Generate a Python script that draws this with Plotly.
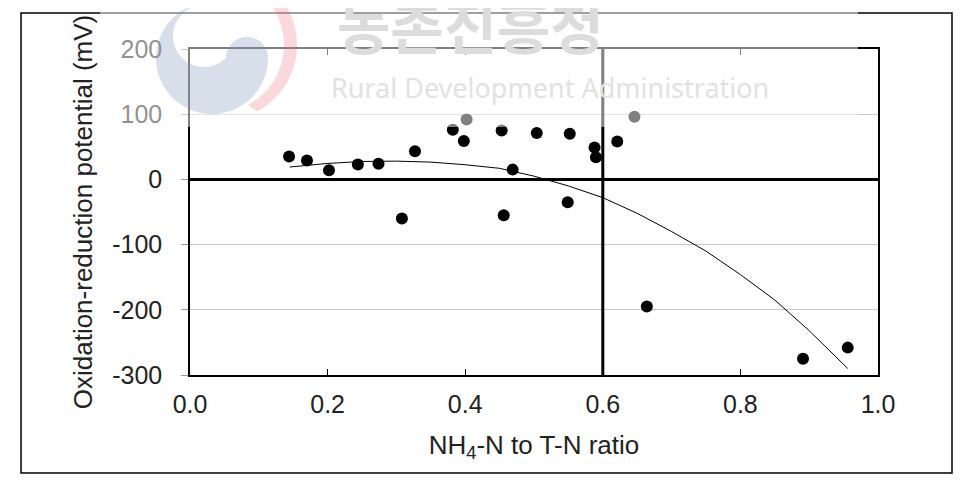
import numpy as np
import plotly.graph_objects as go

# ---- data ----
ratio = [0.144, 0.170, 0.202, 0.244, 0.274, 0.308, 0.327, 0.382, 0.398, 0.402,
         0.453, 0.456, 0.469, 0.504, 0.552, 0.549, 0.588, 0.590, 0.621, 0.646,
         0.664, 0.891, 0.956]
orp = [35, 29, 14, 23, 24, -60, 43, 76, 59, 92,
       75, -55, 15, 71, 70, -35, 49, 34, 58, 96,
       -195, -275, -258]

trend_x = [0.145, 0.20, 0.25, 0.30, 0.35, 0.40, 0.45, 0.50, 0.55, 0.60,
           0.65, 0.70, 0.75, 0.80, 0.85, 0.90, 0.956]
trend_y = [19, 24.5, 27.5, 28, 26.5, 22.5, 17, 5, -10, -28,
           -52, -80, -110, -146, -185, -232, -290]

x_ticks = [0.0, 0.2, 0.4, 0.6, 0.8, 1.0]
x_tick_text = ["0.0", "0.2", "0.4", "0.6", "0.8", "1.0"]
y_ticks = [-300, -200, -100, 0, 100, 200]
y_tick_text = ["-300", "-200", "-100", "0", "100", "200"]

OFF = 8  # page body margin
W, H = 965 - OFF, 480 - OFF
L, R, T, B = 190, 878, 49, 375  # plot area in screenshot pixels


def px(x):
    return (x - L) / (R - L)


def py(y):
    return (B - y) / (B - T)


fig = go.Figure()
fig.add_trace(go.Scatter(x=trend_x, y=trend_y, mode="lines",
                         line=dict(color="black", width=1), hoverinfo="skip",
                         showlegend=False))
fig.add_trace(go.Scatter(x=ratio, y=orp, mode="markers",
                         marker=dict(color="black", size=12), showlegend=False))

shapes = []
shapes.append(dict(type="line", xref="x", yref="y", x0=0.6, x1=0.6, y0=-300, y1=200,
                   line=dict(color="black", width=3)))
shapes.append(dict(type="rect", xref="paper", yref="paper",
                   x0=px(21), x1=px(952), y0=py(473), y1=py(13),
                   line=dict(color="black", width=1.5), layer="below"))
shapes.append(dict(type="rect", xref="paper", yref="paper",
                   x0=px(100), x1=px(858), y0=py(127), y1=py(-5),
                   fillcolor="rgba(255,255,255,0.5)", line=dict(width=0), layer="above"))


def arc(cx, cy, r, a0, a1, n=60):
    t = np.radians(np.linspace(a0, a1, n))
    return [(cx + r * np.cos(a), cy - r * np.sin(a)) for a in t]


def to_path(pts):
    return "M " + " L ".join(f"{px(x):.5f},{py(y):.5f}" for x, y in pts) + " Z"


blue = arc(212, 58, 56, 100, 360) + arc(247, 58, 21, 0, 180) + arc(204, 36, 31, -45, -265)
shapes.append(dict(type="path", xref="paper", yref="paper", path=to_path(blue),
                   fillcolor="rgba(120,150,185,0.3)", line=dict(width=0), layer="above"))
red = arc(222, 45, 75, 115, -62) + arc(216, 45, 68, -62, 115)
shapes.append(dict(type="path", xref="paper", yref="paper", path=to_path(red),
                   fillcolor="rgba(235,90,110,0.24)", line=dict(width=0), layer="above"))

annotations = [
    dict(text="농촌진흥청", xref="paper", yref="paper", x=px(470), y=py(24),
         xanchor="center", yanchor="middle", showarrow=False,
         font=dict(family="Noto Sans CJK KR", size=58, color="#dcdcdc", weight="bold")),
    dict(text="Rural Development Administration", xref="paper", yref="paper",
         x=px(550), y=py(87), xanchor="center", yanchor="middle", showarrow=False,
         font=dict(family="Noto Sans", size=27, color="#e2e2e2")),
]

fig.update_layout(
    width=W, height=H,
    margin=dict(l=L - OFF, r=W - (R - OFF), t=T - OFF, b=H - (B - OFF)),
    paper_bgcolor="white", plot_bgcolor="rgba(0,0,0,0)",
    font=dict(family="Liberation Sans, Arial", color="#222"),
    shapes=shapes, annotations=annotations,
    xaxis=dict(range=[0, 1], tickvals=x_ticks, ticktext=x_tick_text,
               ticks="inside", ticklen=6, tickcolor="black", mirror="ticks",
               showline=True, linecolor="black", linewidth=1.5,
               showgrid=False, zeroline=False, ticklabelstandoff=6,
               tickfont=dict(size=25),
               title=dict(text="NH<sub>4</sub>-N to T-N ratio", font=dict(size=26),
                          standoff=19)),
    yaxis=dict(range=[-300, 200], tickvals=y_ticks, ticktext=y_tick_text,
               ticks="outside", ticklen=7, tickcolor="#999",
               showline=True, linecolor="black", linewidth=1.5, mirror=True,
               showgrid=True, gridcolor="#c8c8c8", gridwidth=1,
               zeroline=True, zerolinecolor="black", zerolinewidth=3,
               ticklabelstandoff=14, tickfont=dict(size=25),
               title=dict(text="Oxidation-reduction potential (mV)", font=dict(size=26),
                          standoff=12)),
)

fig.write_html("out.html")
